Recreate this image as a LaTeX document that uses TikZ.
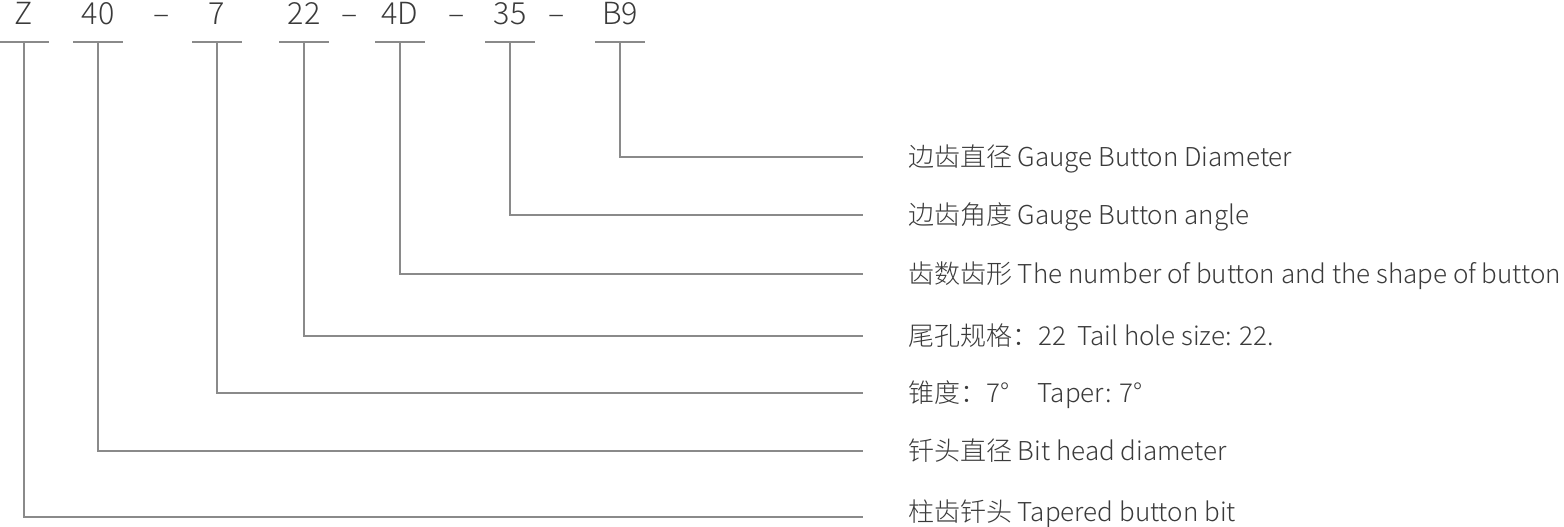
\documentclass[tikz,border=0pt]{standalone}
\usepackage{fontspec}
\setmainfont{Noto Sans CJK SC}[UprightFont=* Light]
\definecolor{txt}{HTML}{3A3A3A}
\definecolor{ln}{HTML}{8A8A8A}
\begin{document}
\begin{tikzpicture}[x=1pt,y=-1pt,
  code/.style={text=txt,font=\fontsize{30.5}{33}\selectfont,inner sep=0pt,anchor=base},
  lab/.style={text=txt,font=\fontsize{26}{29}\selectfont,inner sep=0pt,anchor=base west},
  lead/.style={draw=ln,line width=1.2pt},
  uline/.style={draw=ln,line width=1.2pt}]
\useasboundingbox (0,0) rectangle (1564,527);
% header codes
\node[code] (hZ)  at (24,25)  {Z};
\node[code] (h40) at (98,25)  {40};
\node[code] (d1)  at (162,25) {–};
\node[code] (h7)  at (217,25) {7};
\node[code] (h22) at (304,25) {22};
\node[code] (d2)  at (350,25) {–};
\node[code] (h4D) at (400,25) {4D};
\node[code] (d3)  at (457,25) {–};
\node[code] (h35) at (510,25) {35};
\node[code] (d4)  at (557,25) {–};
\node[code] (hB9) at (620,25) {B9};
% underline centres
\coordinate (uZ)  at (24,42);
\coordinate (u40) at (98,42);
\coordinate (u7)  at (217,42);
\coordinate (u22) at (304,42);
\coordinate (u4D) at (400,42);
\coordinate (u35) at (510,42);
\coordinate (uB9) at (620,42);
\foreach \u in {uZ,u40,u7,u22,u4D,u35,uB9}
  \draw[uline] ([xshift=-25pt]\u) -- ([xshift=25pt]\u);
% labels
\node[lab] (lB9) at (908,166) {边齿直径 Gauge Button Diameter};
\node[lab] (l35) at (908,224) {边齿角度 Gauge Button angle};
\node[lab] (l4D) at (908,283) {齿数齿形 The number of button and the shape of button};
\node[lab] (l22) at (908,345) {尾孔规格：22\ \ Tail hole size: 22.};
\node[lab] (l7)  at (908,402) {锥度：7°\ \ \ \ \ Taper: 7°};
\node[lab] (l40) at (908,460) {钎头直径 Bit head diameter};
\node[lab] (lZ)  at (908,521) {柱齿钎头 Tapered button bit};
% line ends
\coordinate (eB9) at (863,157);
\coordinate (e35) at (863,215);
\coordinate (e4D) at (863,274);
\coordinate (e22) at (863,336);
\coordinate (e7)  at (863,393);
\coordinate (e40) at (863,451);
\coordinate (eZ)  at (863,517);
\draw[lead] (uB9) |- (eB9);
\draw[lead] (u35) |- (e35);
\draw[lead] (u4D) |- (e4D);
\draw[lead] (u22) |- (e22);
\draw[lead] (u7)  |- (e7);
\draw[lead] (u40) |- (e40);
\draw[lead] (uZ)  |- (eZ);
\end{tikzpicture}
\end{document}
